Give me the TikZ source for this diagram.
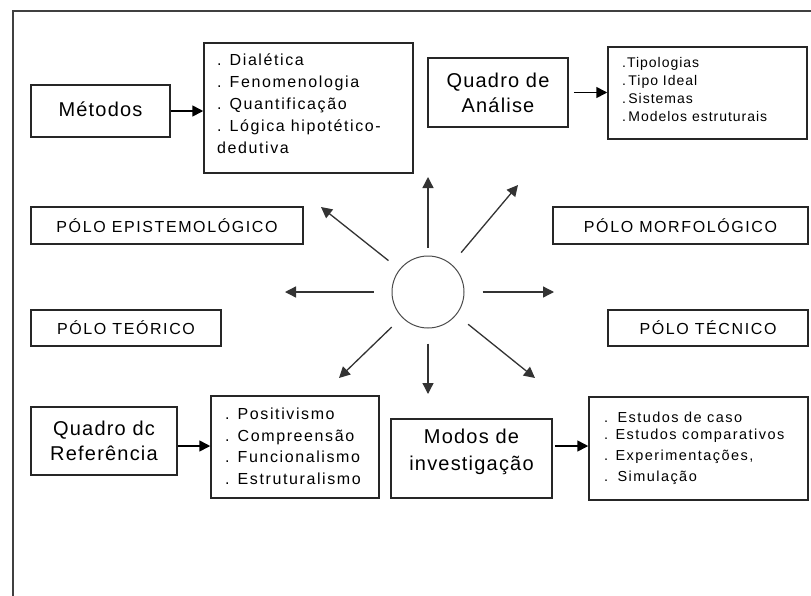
\documentclass[tikz,border=0pt]{standalone}
\usepackage{fontspec}
\setmainfont{Liberation Sans}
\newfontfamily\bigf[LetterSpace=6]{Liberation Sans}
\newfontfamily\listf[LetterSpace=10]{Liberation Sans}
\newfontfamily\smallf[LetterSpace=7]{Liberation Sans}
\newfontfamily\polef[LetterSpace=10]{Liberation Sans}
\usetikzlibrary{arrows.meta}

\tikzset{
  box/.style={draw=black!85, line width=1.5pt, rectangle, inner sep=0pt},
  bigtxt/.style={align=center, inner sep=0pt, font=\bigf\fontsize{20}{25}\selectfont},
  listtxt/.style={align=left, anchor=west, inner sep=0pt, font=\listf\fontsize{16}{22}\selectfont},
  smalltxt/.style={align=left, anchor=west, inner sep=0pt, font=\smallf\fontsize{14}{18.3}\selectfont},
  casetxt/.style={align=left, anchor=west, inner sep=0pt, font=\listf\fontsize{14.5}{19}\selectfont},
  poletxt/.style={inner sep=0pt, font=\polef\fontsize{16}{19}\selectfont},
  link/.style={line width=1.6pt, -{Triangle[length=11pt,width=11pt]}},
  ray/.style={line width=1.3pt, black!80, -{Triangle[length=11pt,width=11pt]}},
}

\begin{document}
\begin{tikzpicture}[x=1pt, y=-1pt]
\useasboundingbox (0,0) rectangle (811,595);
\fill[white] (0,0) rectangle (811,595);

% outer frame, running off the page at right and bottom
\draw[line width=2pt, black!75] (13,620) -- (13,11) -- (830,11);

% Métodos
\node[box, minimum width=139pt, minimum height=52pt] (met) at (100.5,111) {};
\node[bigtxt] (metT) at (100.5,109) {Métodos};
\node[box, minimum width=209pt, minimum height=130pt] (metL) at (308.5,108) {};
\node[listtxt] (metLT) at (217,104) {. Dialética\\. Fenomenologia\\. Quantificação\\. Lógica hipotético-\\dedutiva};
\draw[link] (met.east) -- (met.east -| metL.west);

% Quadro de Análise
\node[box, minimum width=140pt, minimum height=69pt] (ana) at (498,92.5) {};
\node[bigtxt] (anaT) at (498,92.5) {Quadro de\\Análise};
\node[box, minimum width=199pt, minimum height=92pt] (anaL) at (707.5,93) {};
\node[smalltxt] (anaLT) at (622,89.5) {.Tipologias\\.\,Tipo Ideal\\.\,Sistemas\\.\,Modelos estruturais};
\draw[link, shorten <=5pt] (ana.east) -- (ana.east -| anaL.west);

% poles
\node[box, minimum width=272pt, minimum height=37pt] (epi) at (167,225.5) {};
\node[poletxt] (epiT) at (167,225.5) {PÓLO EPISTEMOLÓGICO};
\node[box, minimum width=255pt, minimum height=37pt] (mor) at (680.5,225.5) {};
\node[poletxt] (morT) at (680.5,225.5) {PÓLO MORFOLÓGICO};
\node[box, minimum width=190pt, minimum height=36pt] (teo) at (126,328) {};
\node[poletxt] (teoT) at (126,328) {PÓLO TEÓRICO};
\node[box, minimum width=200pt, minimum height=36pt] (tec) at (708,328) {};
\node[poletxt] (tecT) at (708,328) {PÓLO TÉCNICO};

% centre and its eight rays
\node[draw=black!70, line width=1pt, circle, minimum size=72pt, inner sep=0pt] (c) at (428,292) {};
\coordinate (tN)  at (428,177);
\coordinate (tNE) at (518,185);
\coordinate (tNW) at (321,207);
\coordinate (tW)  at (285,292);
\coordinate (tE)  at (554,292);
\coordinate (tSW) at (339,378);
\coordinate (tS)  at (428,394);
\coordinate (tSE) at (535,378);
\draw[ray, shorten <=8pt]  (c) -- (tN);
\draw[ray, shorten <=15pt] (c) -- (tNE);
\draw[ray, shorten <=14pt] (c) -- (tNW);
\draw[ray, shorten <=18pt] (c) -- (tW);
\draw[ray, shorten <=18pt] (c) -- (tE);
\draw[ray, shorten <=14pt] (c) -- (tSW);
\draw[ray, shorten <=15pt] (c) -- (tS);
\draw[ray, shorten <=15pt] (c) -- (tSE);

% Quadro de Referência
\node[box, minimum width=146pt, minimum height=68pt] (ref) at (104,441) {};
\node[bigtxt] (refT) at (104,440.5) {Quadro dc\\Referência};
\node[box, minimum width=168pt, minimum height=102pt] (refL) at (295,447) {};
\node[listtxt, font=\listf\fontsize{16}{21.5}\selectfont] (refLT) at (225,446.5) {. Positivismo\\. Compreensão\\. Funcionalismo\\. Estruturalismo};
\draw[link] (ref.east |- 0,446) -- (refL.west |- 0,446);

% Modos de investigação
\node[box, minimum width=161pt, minimum height=79pt] (mod) at (471.5,458.5) {};
\node[bigtxt, font=\bigf\fontsize{20}{27}\selectfont] (modT) at (471.5,451.5) {Modos de\\investigação};
\node[box, minimum width=219pt, minimum height=103pt] (modL) at (698.5,448.5) {};
\node[casetxt] (modLT) at (604,448.5) {.\hspace{2pt} Estudos de caso\\[-1.5pt]. Estudos comparativos\\[1.5pt]. Experimentações,\\[2.5pt].\hspace{2pt} Simulação};
\draw[link, shorten <=2pt] (mod.east |- 0,446) -- (modL.west |- 0,446);
\end{tikzpicture}
\end{document}
